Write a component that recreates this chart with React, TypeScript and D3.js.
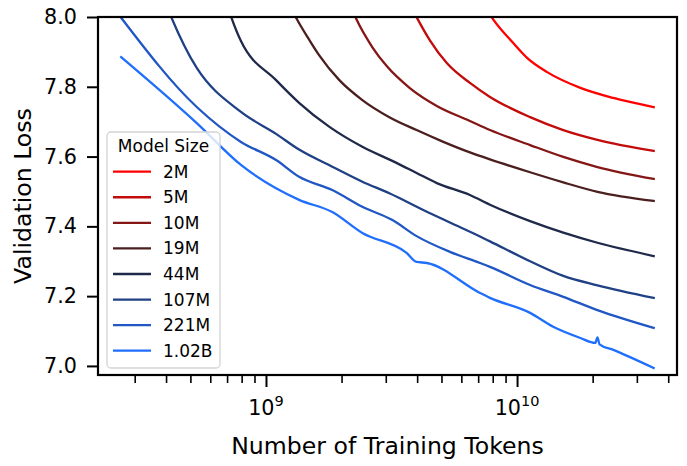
import React, { useEffect, useRef } from 'react';
import * as d3 from 'd3';

const modelSizes = ['2M', '5M', '10M', '19M', '44M', '107M', '221M', '1.02B'];
const lineColors = ['#ff0000', '#c20b0b', '#851616', '#4c1f1f', '#1f2a4a', '#1f4084', '#2057c4', '#1f6ffc'];

// [tokens, validation loss]
const loss2M: [number, number][] = [
  [7.38e9, 8.035], [8.02e9, 7.994], [9.64e9, 7.926], [1.096e10, 7.883], [1.318e10, 7.842],
  [1.787e10, 7.797], [2.42e10, 7.768], [3.5e10, 7.742],
];
const loss5M: [number, number][] = [
  [3.7e9, 8.045], [4.02e9, 7.994], [4.49e9, 7.934], [5.25e9, 7.868], [6.49e9, 7.811],
  [7.8e9, 7.771], [1.127e10, 7.713], [1.528e10, 7.676], [2.09e10, 7.648], [3.5e10, 7.616],
];
const loss10M: [number, number][] = [
  [2.12e9, 8.05], [2.29e9, 7.994], [2.65e9, 7.914], [3.02e9, 7.86], [3.73e9, 7.797],
  [4.79e9, 7.745], [6.49e9, 7.702], [7.8e9, 7.676], [1.127e10, 7.633], [1.528e10, 7.599],
  [2.09e10, 7.57], [3.5e10, 7.536],
];
const loss19M: [number, number][] = [
  [1.06e9, 8.15], [1.325e9, 7.995], [1.486e9, 7.935], [1.63e9, 7.89], [1.96e9, 7.819],
  [2.42e9, 7.762], [3.1e9, 7.713], [3.98e9, 7.676], [5.06e9, 7.643], [6.49e9, 7.612],
  [7.8e9, 7.592], [1.127e10, 7.555], [1.528e10, 7.526], [2.09e10, 7.499], [3.5e10, 7.473],
];
const loss44M: [number, number][] = [
  [5.3e8, 8.35], [7.95e8, 7.931], [1.097e9, 7.819], [1.355e9, 7.754], [1.79e9, 7.685],
  [2.42e9, 7.628], [3.31e9, 7.582], [3.98e9, 7.553], [4.79e9, 7.524], [6.49e9, 7.49],
  [7.8e9, 7.462], [1.127e10, 7.415], [1.528e10, 7.382], [2.09e10, 7.353], [3.5e10, 7.315],
];
const loss107M: [number, number][] = [
  [2.65e8, 8.4], [5.3e8, 7.854], [7.95e8, 7.728], [1.097e9, 7.665], [1.355e9, 7.62],
  [1.837e9, 7.571], [2.42e9, 7.528], [3.1e9, 7.495], [4.37e9, 7.442], [5.4e9, 7.411],
  [7.12e9, 7.371], [7.8e9, 7.357], [1.127e10, 7.3], [1.528e10, 7.258], [2.09e10, 7.231],
  [3.5e10, 7.195],
];
const loss221M: [number, number][] = [
  [2.65e8, 7.998], [5.3e8, 7.742], [7.95e8, 7.642], [1.097e9, 7.59], [1.355e9, 7.542],
  [1.837e9, 7.504], [2.42e9, 7.456], [3.19e9, 7.418], [3.98e9, 7.372], [5.4e9, 7.327],
  [7.12e9, 7.295], [7.8e9, 7.284], [1.127e10, 7.232], [1.528e10, 7.198], [2.09e10, 7.16],
  [3.5e10, 7.109],
];
const loss1B: [number, number][] = [
  [2.65e8, 7.885], [5.3e8, 7.696], [7.95e8, 7.576], [1.355e9, 7.476], [1.837e9, 7.441],
  [2.42e9, 7.381], [3.63e9, 7.324], [3.98e9, 7.298], [4.37e9, 7.295], [7.12e9, 7.209],
  [7.8e9, 7.195], [1.127e10, 7.152], [1.393e10, 7.112], [1.787e10, 7.08], [2.05e10, 7.066],
  [2.09e10, 7.082], [2.13e10, 7.062], [2.42e10, 7.046], [3.5e10, 6.994],
];
const series = [loss2M, loss5M, loss10M, loss19M, loss44M, loss107M, loss221M, loss1B];

const yTicks = [7.0, 7.2, 7.4, 7.6, 7.8, 8.0];
const xMajorTicks = [1e9, 1e10];
const xMinorTicks = [3e8, 4e8, 5e8, 6e8, 7e8, 8e8, 9e8, 2e9, 3e9, 4e9, 5e9, 6e9, 7e9, 8e9, 9e9, 2e10, 3e10, 4e10];

const App: React.FC = () => {
  const svgRef = useRef<SVGSVGElement | null>(null);

  useEffect(() => {
    if (!svgRef.current) return;
    const svg = d3.select(svgRef.current);
    svg.selectAll('*').remove();

    const width = 687;
    const height = 466;
    const margin = { top: 17, right: 10, bottom: 91, left: 98 };
    const font = 'DejaVu Sans, sans-serif';

    const x = d3.scaleLog()
      .domain([Math.pow(10, 8.331), Math.pow(10, 10.637)])
      .range([margin.left, width - margin.right]);
    const y = d3.scaleLinear()
      .domain([6.974, 8.0])
      .range([height - margin.bottom, margin.top]);

    svg.append('defs').append('clipPath').attr('id', 'plot-clip')
      .append('rect')
      .attr('x', margin.left).attr('y', margin.top)
      .attr('width', width - margin.left - margin.right)
      .attr('height', height - margin.top - margin.bottom);

    const line = d3.line<[number, number]>()
      .x(d => x(d[0]))
      .y(d => y(d[1]))
      .curve(d3.curveMonotoneX);

    svg.append('g').attr('clip-path', 'url(#plot-clip)')
      .selectAll('path')
      .data(series)
      .join('path')
      .attr('d', d => line(d))
      .attr('fill', 'none')
      .attr('stroke', (_, i) => lineColors[i])
      .attr('stroke-width', 2.3)
      .attr('stroke-linejoin', 'round')
      .attr('stroke-linecap', 'square');

    // x axis: major + minor ticks
    const xMinor = svg.append('g')
      .attr('transform', `translate(0,${height - margin.bottom})`)
      .call(d3.axisBottom(x).tickValues(xMinorTicks).tickSize(8).tickFormat(() => ''));
    xMinor.select('.domain').remove();
    xMinor.selectAll('line').attr('stroke-width', 1.6);

    const xMajor = svg.append('g')
      .attr('transform', `translate(0,${height - margin.bottom})`)
      .call(d3.axisBottom(x).tickValues(xMajorTicks).tickSize(12).tickFormat(() => ''));
    xMajor.select('.domain').remove();
    xMajor.selectAll('line').attr('stroke-width', 2);

    const xLabels = svg.append('g')
      .selectAll('text')
      .data(xMajorTicks)
      .join('text')
      .attr('x', d => x(d))
      .attr('y', 415)
      .attr('text-anchor', 'middle')
      .attr('font-family', font)
      .attr('font-size', 20.7)
      .attr('fill', '#000');
    xLabels.append('tspan').text('10');
    xLabels.append('tspan')
      .attr('font-size', 14.5)
      .attr('dy', -9)
      .text(d => String(Math.round(Math.log10(d))));

    // y axis
    const yAxis = svg.append('g')
      .attr('transform', `translate(${margin.left},0)`)
      .call(d3.axisLeft(y).tickValues(yTicks).tickSize(11).tickPadding(10).tickFormat(d3.format('.1f')));
    yAxis.select('.domain').remove();
    yAxis.selectAll('line').attr('stroke-width', 2);
    yAxis.selectAll('text')
      .attr('font-family', font)
      .attr('font-size', 20.7)
      .attr('fill', '#000');

    // frame
    svg.append('rect')
      .attr('x', margin.left).attr('y', margin.top)
      .attr('width', width - margin.left - margin.right)
      .attr('height', height - margin.top - margin.bottom)
      .attr('fill', 'none')
      .attr('stroke', '#000')
      .attr('stroke-width', 2.2);

    // axis titles
    svg.append('text')
      .attr('x', (margin.left + width - margin.right) / 2)
      .attr('y', 454)
      .attr('text-anchor', 'middle')
      .attr('font-family', font)
      .attr('font-size', 23.6)
      .text('Number of Training Tokens');
    svg.append('text')
      .attr('transform', `translate(31,${(margin.top + height - margin.bottom) / 2}) rotate(-90)`)
      .attr('text-anchor', 'middle')
      .attr('font-family', font)
      .attr('font-size', 23.6)
      .text('Validation Loss');

    // legend
    const legend = svg.append('g');
    legend.append('rect')
      .attr('x', 107).attr('y', 132)
      .attr('width', 113).attr('height', 236)
      .attr('rx', 4)
      .attr('fill', 'rgba(255,255,255,0.8)')
      .attr('stroke', '#d3d3d3')
      .attr('stroke-width', 1.3);
    legend.append('text')
      .attr('x', 163.5).attr('y', 152)
      .attr('text-anchor', 'middle')
      .attr('font-family', font)
      .attr('font-size', 17)
      .text('Model Size');
    const entries = legend.selectAll('g.entry')
      .data(modelSizes)
      .join('g')
      .attr('class', 'entry')
      .attr('transform', (_, i) => `translate(0,${171.7 + i * 25.57})`);
    entries.append('line')
      .attr('x1', 113).attr('x2', 151)
      .attr('stroke', (_, i) => lineColors[i])
      .attr('stroke-width', 2.3);
    entries.append('text')
      .attr('x', 163).attr('y', 6)
      .attr('font-family', font)
      .attr('font-size', 17)
      .text(d => d);
  }, []);

  return (
    <svg ref={svgRef} width="687" height="466" style={{ position: 'absolute', left: 0, top: 0, background: '#fff' }}></svg>
  );
};

export default App;
